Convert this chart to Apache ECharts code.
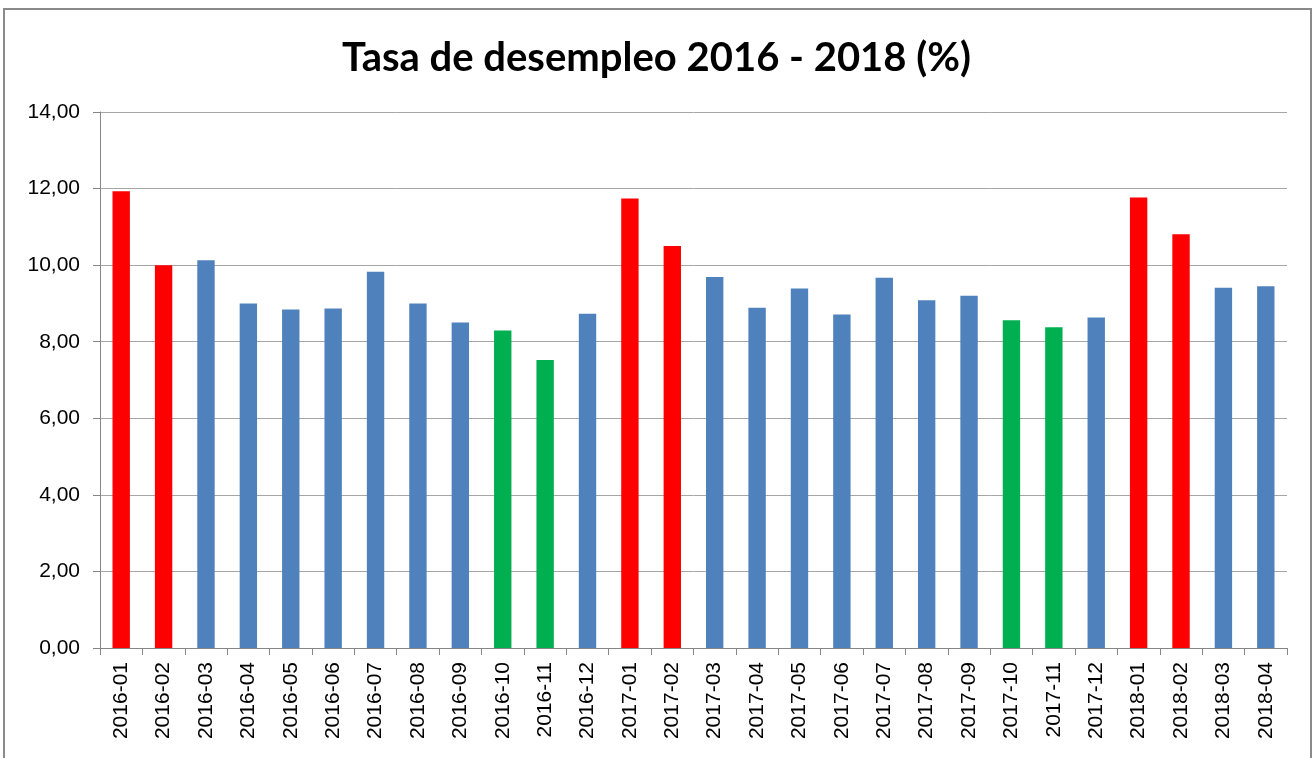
<!DOCTYPE html>
<html>
<head>
<meta charset="utf-8">
<script src="https://cdn.jsdelivr.net/npm/echarts@6/dist/echarts.min.js"></script>
<style>
  html, body { margin: 0; padding: 0; background: #fff; overflow: hidden; }
  #chart { width: 1313px; height: 758px; }
  .frame { position: absolute; left: 3px; top: 8px; width: 1305px; height: 780px; border: 2px solid #8a8a8a; pointer-events: none; }
</style>
</head>
<body>
<div id="chart"></div>
<div class="frame"></div>
<script>
// meses
const months = [
  '2016-01', '2016-02', '2016-03', '2016-04', '2016-05', '2016-06', '2016-07',
  '2016-08', '2016-09', '2016-10', '2016-11', '2016-12',
  '2017-01', '2017-02', '2017-03', '2017-04', '2017-05', '2017-06', '2017-07',
  '2017-08', '2017-09', '2017-10', '2017-11', '2017-12',
  '2018-01', '2018-02', '2018-03', '2018-04'
]
// tasa de desempleo (%)
const rates = [
  11.93, 10.00, 10.13, 9.00, 8.84, 8.87, 9.83, 9.00, 8.50, 8.29, 7.52, 8.73,
  11.74, 10.50, 9.69, 8.89, 9.39, 8.71, 9.67, 9.08, 9.20, 8.56, 8.38, 8.63,
  11.77, 10.81, 9.41, 9.45
]
// grupo de cada mes: alto (ene-feb), bajo (oct-nov), normal
const groups = [
  'alto', 'alto', 'normal', 'normal', 'normal', 'normal', 'normal', 'normal', 'normal', 'bajo', 'bajo', 'normal',
  'alto', 'alto', 'normal', 'normal', 'normal', 'normal', 'normal', 'normal', 'normal', 'bajo', 'bajo', 'normal',
  'alto', 'alto', 'normal', 'normal'
]
const yTicks = [0, 14, 2]

const groupColor = { alto: '#FF0000', bajo: '#00B050', normal: '#4F81BD' }

const chart = echarts.init(document.getElementById('chart'))

const option = {
  animation: false,
  title: {
    text: 'Tasa de desempleo 2016 - 2018 (%)',
    left: 'center',
    top: 33,
    textStyle: {
      fontFamily: 'Lato, "Open Sans", sans-serif',
      fontWeight: 'bold',
      fontSize: 40,
      color: '#000'
    }
  },
  grid: {
    left: 100,
    right: 26,
    top: 112,
    bottom: 110,
    containLabel: false
  },
  xAxis: {
    type: 'category',
    data: months,
    axisLine: { lineStyle: { color: '#868686', width: 1 } },
    axisTick: { show: true, length: 7, lineStyle: { color: '#868686' } },
    axisLabel: {
      rotate: 90,
      interval: 0,
      margin: 14,
      color: '#000',
      fontSize: 21,
      fontFamily: '"Liberation Sans", Arial, sans-serif'
    },
    splitLine: { show: false }
  },
  yAxis: {
    type: 'value',
    min: yTicks[0],
    max: yTicks[1],
    interval: yTicks[2],
    axisLine: { show: true, lineStyle: { color: '#868686', width: 1 } },
    axisTick: { show: true, length: 7, lineStyle: { color: '#868686' } },
    axisLabel: {
      margin: 20,
      color: '#000',
      fontSize: 21,
      fontFamily: '"Liberation Sans", Arial, sans-serif',
      formatter: v => v.toFixed(2).replace('.', ',')
    },
    splitLine: { lineStyle: { color: '#a6a6a6', width: 1 } }
  },
  series: [{
    type: 'bar',
    barWidth: '41%',
    data: rates.map((v, i) => ({
      value: v,
      itemStyle: { color: groupColor[groups[i]] }
    }))
  }]
}

chart.setOption(option)
</script>
</body>
</html>
